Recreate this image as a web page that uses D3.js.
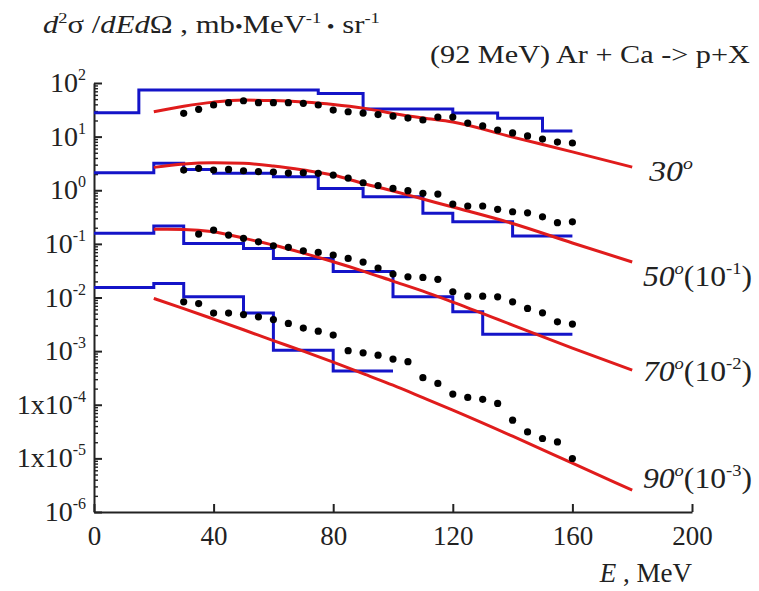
<!DOCTYPE html>
<html>
<head>
<meta charset="utf-8">
<script src="https://cdn.jsdelivr.net/npm/d3@7"></script>
<style>
  html, body { margin: 0; padding: 0; background: #fff; overflow: hidden; }
  text { font-family: "Liberation Serif", "Times New Roman", serif; fill: #222; }
</style>
<title>Ar + Ca -> p + X</title>
</head>
<body>
<svg id="chart" width="759" height="591"></svg>
<script>
// ---- data (values as plotted, i.e. already scaled) ----
var xTicks = [0, 40, 80, 120, 160, 200];
var yTickExps = [2, 1, 0, -1, -2, -3, -4, -5, -6];
var yTickPrefix = ["", "", "", "", "", "", "1x", "1x", ""];

var angleNames = ["30", "50", "70", "90"];
var angleScales = ["", "-1", "-2", "-3"];

// experiment (dots)
var dotE = [30, 35, 40, 45, 50, 55, 60, 65, 70, 75, 80, 85, 90, 95, 100,
            105, 110, 115, 120, 125, 130, 135, 140, 145, 150, 155, 160];
var dots30 = [27.2, 32.3, 38.9, 42.9, 46.7, 42.9, 42.9, 42.9, 41.8, 38.9, 31.3, 29.1, 27.5, 25.8, 24.2,
              22.2, 20.4, 23.2, 23.2, 17.9, 15.8, 13.3, 11.7, 10.3, 9.0, 7.9, 7.6];
var dots50 = [2.38, 2.56, 2.38, 2.45, 2.31, 2.23, 2.19, 2.09, 2.12, 2.07, 1.92, 1.69, 1.38, 1.22, 1.08,
              0.98, 0.875, 0.85, 0.553, 0.508, 0.508, 0.44, 0.397, 0.38, 0.32, 0.248, 0.258];
var dots70 = [null, 0.152, 0.181, 0.146, 0.127, 0.109, 0.0922, 0.0861, 0.0743, 0.0694, 0.0618, 0.0536, 0.0457, 0.0354, 0.0273,
              0.0243, 0.0237, 0.0218, 0.0128, 0.0106, 0.0106, 0.0103, 0.0083, 0.00626, 0.00518, 0.00352, 0.00319];
var dots90 = [0.00832, 0.00769, 0.00512, 0.00512, 0.0048, 0.00437, 0.00387, 0.00329, 0.00269, 0.00236, 0.00199, 0.00102, 0.00093, 0.00084, 0.00071,
              0.000637, 0.00032, 0.00025, 0.000158, 0.000137, 0.000126, 0.000106, 5.16e-5, 3.12e-5, 2.35e-5, 2.03e-5, 9.95e-6];

// calculation (red curves)
var calcE = [20, 30, 40, 50, 60, 70, 80, 90, 100, 110, 120, 140, 160, 180];
var calc30 = [29.2, 37, 44, 48, 47, 44, 39.7, 34, 27, 22.2, 18.7, 9.8, 5.2, 2.7];
var calc50 = [2.67, 3.1, 3.26, 3.18, 2.83, 2.38, 1.92, 1.34, 0.97, 0.686, 0.486, 0.24, 0.104, 0.046];
var calc70 = [0.187, 0.186, 0.168, 0.128, 0.095, 0.0673, 0.0464, 0.0311, 0.0202, 0.01315, 0.0082, 0.00306, 0.00114, 0.000442];
var calc90 = [0.00962, 0.00621, 0.00395, 0.0025, 0.00157, 0.001, 0.000623, 0.00038, 0.000232, 0.000136, 7.93e-5, 2.59e-5, 8.13e-6, 2.55e-6];

// histograms (blue), bin edges + bin values
var histE30 = [0, 15, 75, 90, 120, 135, 150, 160];
var hist30 = [27.9, 74, 64, 32.7, 27.5, 22, 12.7];
var histE50 = [0, 20, 30, 40, 60, 75, 90, 110, 120, 140, 160];
var hist50 = [2.12, 3.18, 2.45, 2.07, 1.79, 1.08, 0.755, 0.371, 0.258, 0.14];
var histE70 = [0, 20, 30, 50, 60, 80, 100, 120, 130, 160];
var hist70 = [0.157, 0.215, 0.102, 0.0824, 0.0536, 0.0304, 0.0103, 0.0054, 0.00207];
var histE90 = [0, 20, 30, 50, 60, 80, 100];
var hist90 = [0.0154, 0.0183, 0.0103, 0.00512, 0.00104, 0.000424];

var svg = d3.select("#chart");

var x = d3.scaleLinear().domain([0, 200]).range([94, 692]);
var y = d3.scaleLog().domain([1e-6, 1e2]).range([512, 83]);

// ---- axes ----
var yMajor = yTickExps.map(function (e) { return Math.pow(10, e); });
var yMinor = [];
for (var e = -6; e < 2; e++) {
  for (var m = 2; m < 10; m++) yMinor.push(m * Math.pow(10, e));
}

var yAxisMinor = svg.append("g")
  .attr("transform", "translate(94,0)")
  .call(d3.axisLeft(y).tickValues(yMinor).tickSize(-4).tickSizeOuter(0).tickFormat(""));
yAxisMinor.select(".domain").remove();
yAxisMinor.selectAll("line").style("stroke", "#222").style("stroke-width", "1.4px");

var yAxis = svg.append("g")
  .attr("transform", "translate(94,0)")
  .call(d3.axisLeft(y).tickValues(yMajor).tickSize(-8).tickSizeOuter(0).tickFormat(""));
yAxis.selectAll("line,path").style("stroke", "#222").style("stroke-width", "2px");

var xAxis = svg.append("g")
  .attr("transform", "translate(0,512)")
  .call(d3.axisBottom(x).tickValues(xTicks).tickSize(-8).tickSizeOuter(0).tickPadding(14));
xAxis.selectAll("line,path").style("stroke", "#222").style("stroke-width", "2px");
xAxis.selectAll("text")
  .style("font-family", "'Liberation Serif'")
  .style("font-size", "27px")
  .style("fill", "#222");

// y tick labels with superscripts
yTickExps.forEach(function (ex, i) {
  var t = svg.append("text")
    .attr("x", 86)
    .attr("y", y(Math.pow(10, ex)) + 9)
    .attr("text-anchor", "end")
    .style("font-size", "28px");
  t.append("tspan").text(yTickPrefix[i] + "10");
  t.append("tspan").attr("dy", -12).style("font-size", "16px").text(String(ex));
});

// ---- series ----
function stepPoints(edges, vals) {
  var pts = vals.map(function (v, i) { return [edges[i], v]; });
  pts.push([edges[edges.length - 1], vals[vals.length - 1]]);
  return pts;
}

var stepLine = d3.line()
  .x(function (d) { return x(d[0]); })
  .y(function (d) { return y(d[1]); })
  .curve(d3.curveStepAfter);

var smoothLine = d3.line()
  .x(function (d) { return x(d[0]); })
  .y(function (d) { return y(d[1]); })
  .curve(d3.curveMonotoneX);

var hists = [[histE30, hist30], [histE50, hist50], [histE70, hist70], [histE90, hist90]];
var calcs = [calc30, calc50, calc70, calc90];
var dots = [dots30, dots50, dots70, dots90];

hists.forEach(function (h) {
  svg.append("path")
    .attr("d", stepLine(stepPoints(h[0], h[1])))
    .style("fill", "none")
    .style("stroke", "#1414c8")
    .style("stroke-width", "3px");
});

calcs.forEach(function (c) {
  svg.append("path")
    .attr("d", smoothLine(calcE.map(function (e, i) { return [e, c[i]]; })))
    .style("fill", "none")
    .style("stroke", "#e01c1c")
    .style("stroke-width", "3px");
});

dots.forEach(function (s) {
  svg.append("g")
    .selectAll("circle")
    .data(dotE.map(function (e, i) { return [e, s[i]]; }).filter(function (d) { return d[1] != null; }))
    .enter()
    .append("circle")
    .attr("cx", function (d) { return x(d[0]); })
    .attr("cy", function (d) { return y(d[1]); })
    .attr("r", 3.6)
    .style("fill", "#000");
});

// stretch a text group horizontally so it spans the width seen in the figure
function fitText(g, x0, base, width) {
  var b = g.node().getBBox();
  var sx = width / b.width;
  g.attr("transform", "translate(" + (x0 - b.x * sx) + "," + base + ") scale(" + sx + ",1)");
}

// ---- angle labels at the curve ends ----
var labelPos = [[648, 181, 45], [643, 286, 109], [643, 381, 109], [643, 488, 109]];
angleNames.forEach(function (a, i) {
  var g = svg.append("g");
  var t = g.append("text").style("font-size", "29px");
  t.append("tspan").style("font-style", "italic").text(a);
  t.append("tspan").attr("dy", -12).style("font-style", "italic").style("font-size", "17px").text("o");
  if (angleScales[i]) {
    t.append("tspan").attr("dy", 12).text("(10");
    t.append("tspan").attr("dy", -12).style("font-size", "17px").text(angleScales[i]);
    t.append("tspan").attr("dy", 12).text(")");
  }
  fitText(g, labelPos[i][0], labelPos[i][1], labelPos[i][2]);
});

// ---- titles ----
var yTitle = svg.append("g");
var yt = yTitle.append("text").style("font-size", "25px");
yt.append("tspan").style("font-style", "italic").text("d");
yt.append("tspan").attr("dy", -10).style("font-size", "15px").text("2");
yt.append("tspan").attr("dy", 10).text("σ /");
yt.append("tspan").style("font-style", "italic").text("dEd");
yt.append("tspan").text("Ω , mb");
yt.append("tspan").style("font-size", "18px").text("•");
yt.append("tspan").text("MeV");
yt.append("tspan").attr("dy", -10).style("font-size", "15px").text("-1");
yt.append("tspan").attr("dy", 10).style("font-size", "18px").text(" •");
yt.append("tspan").text(" sr");
yt.append("tspan").attr("dy", -10).style("font-size", "15px").text("-1");
fitText(yTitle, 43, 33, 337);

var reaction = svg.append("g");
reaction.append("text").style("font-size", "25px").text("(92 MeV) Ar + Ca -> p+X");
fitText(reaction, 430, 63, 320);

var xTitle = svg.append("text")
  .attr("x", 692)
  .attr("y", 582)
  .attr("text-anchor", "end")
  .style("font-size", "27px");
xTitle.append("tspan").style("font-style", "italic").text("E");
xTitle.append("tspan").text(" , MeV");
</script>
</body>
</html>
